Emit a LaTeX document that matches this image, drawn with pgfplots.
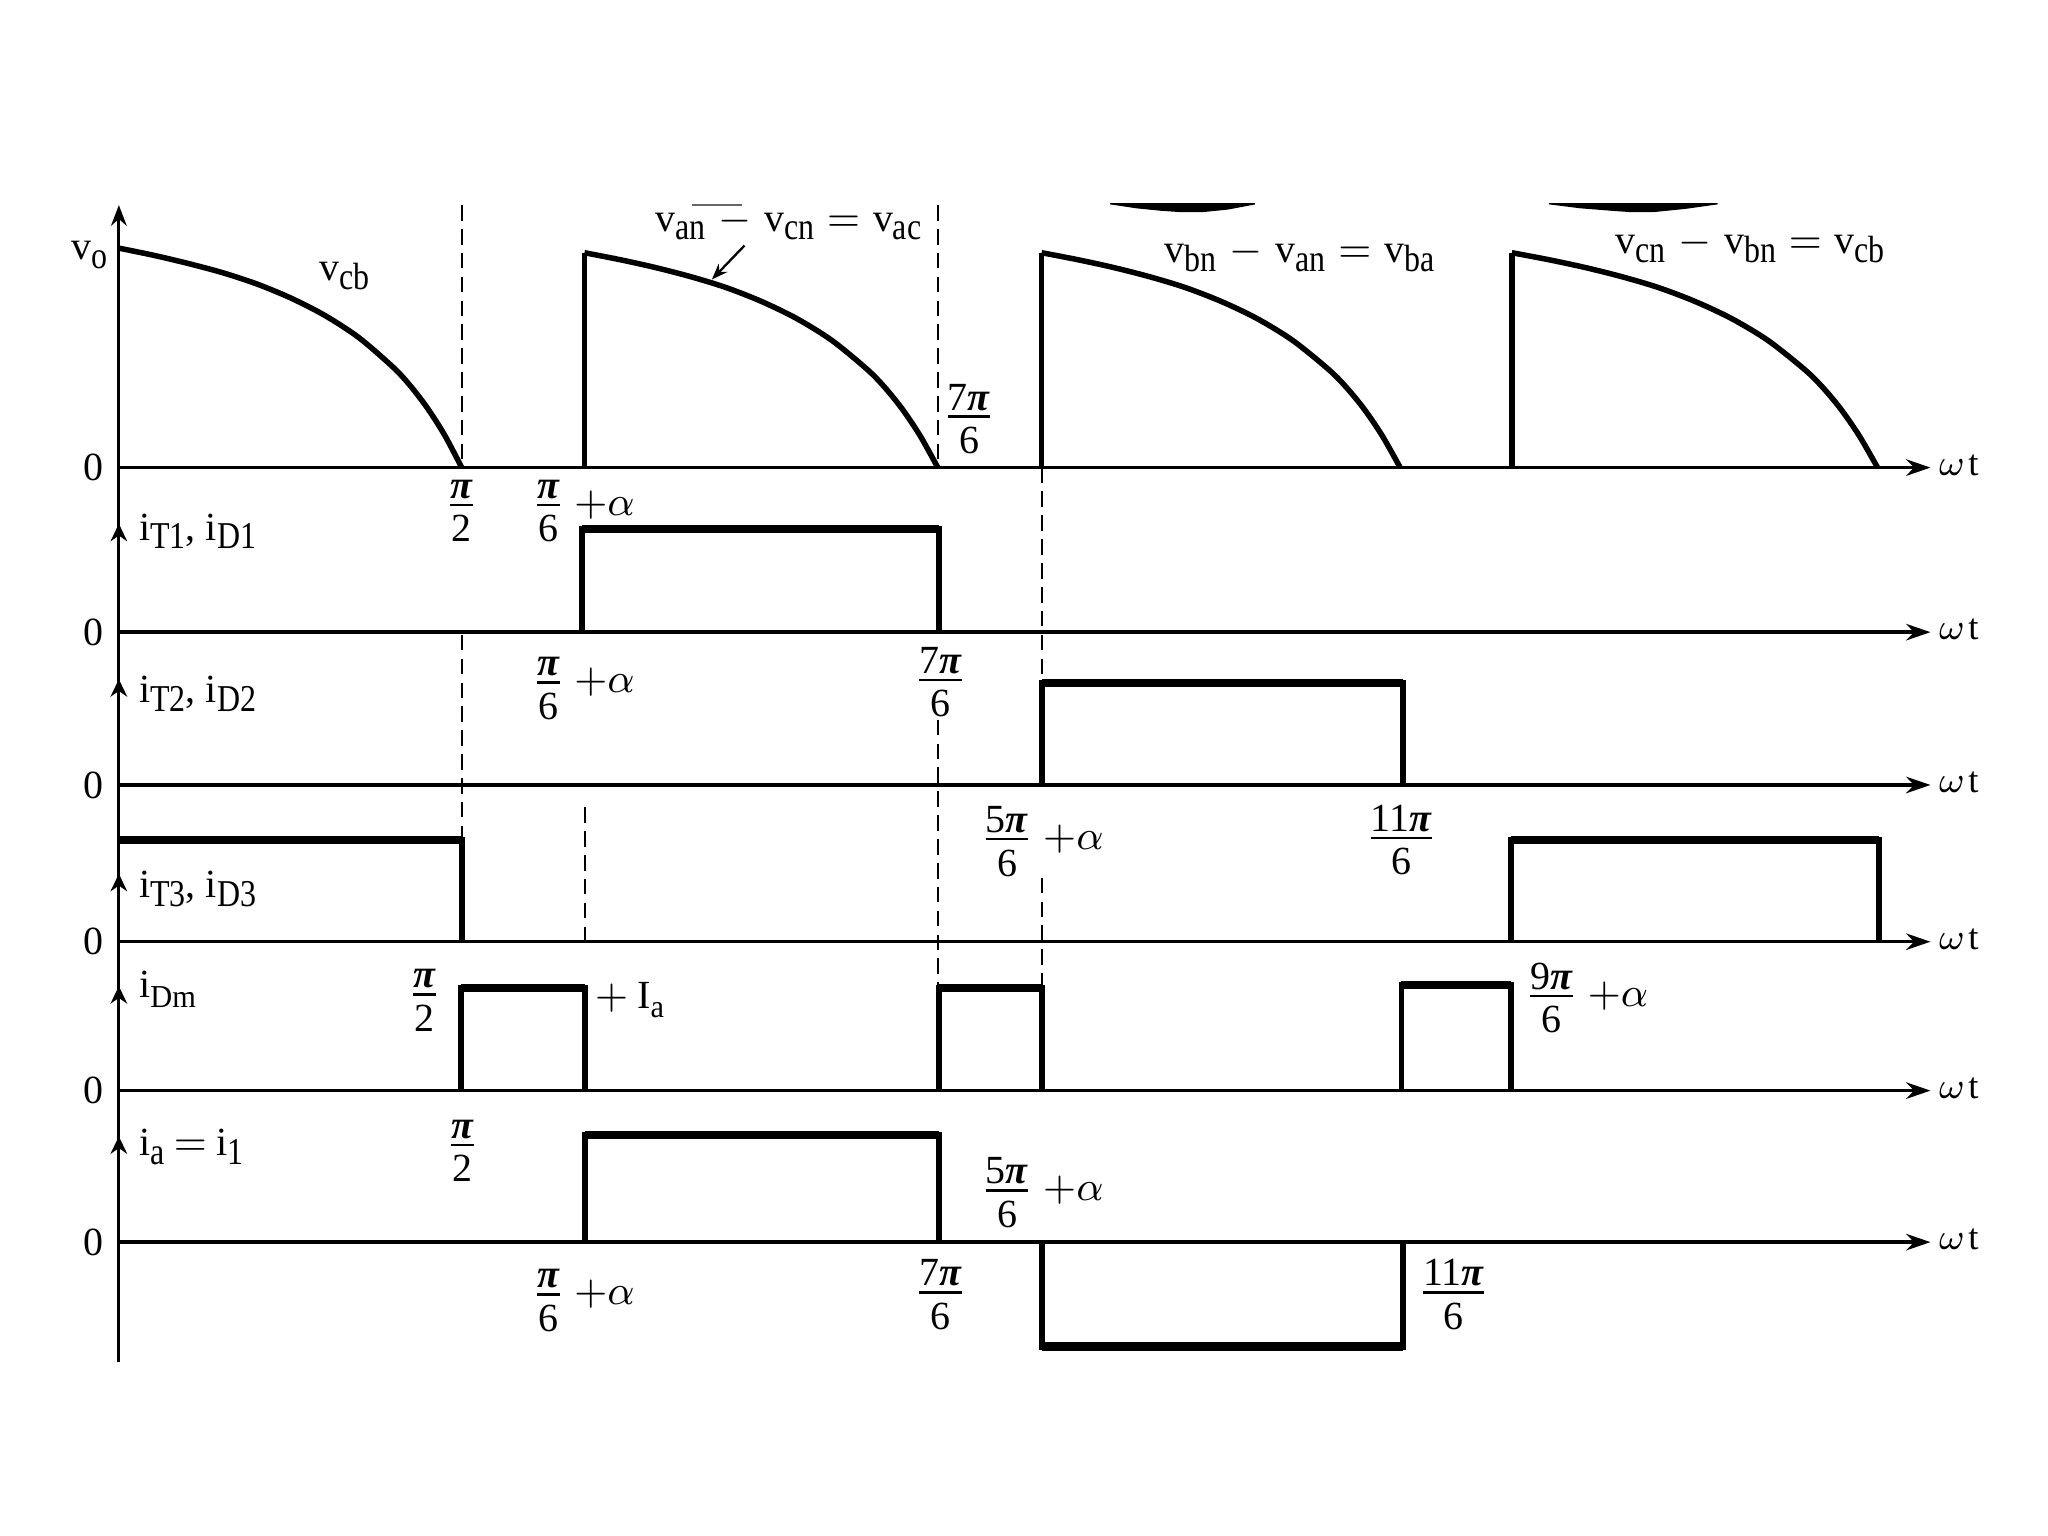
\documentclass[border=0pt]{standalone}
\usepackage{amsmath}
\usepackage{graphicx}
\usepackage{pgfplots}
\pgfplotsset{compat=1.18}
\usetikzlibrary{arrows.meta}
\usepackage{fontspec}
\setmainfont{Liberation Serif}

\newcommand{\sub}[1]{\raisebox{-1.9pt}{\scalebox{0.8}[0.95]{#1}}}
\newcommand{\ssub}[1]{\raisebox{-2.1pt}{\scalebox{0.76}[0.8]{#1}}}
\newcommand{\PI}{\textbf{\textit{π}}}
\newcommand{\fr}[2]{$\genfrac{}{}{0.55pt}{1}{\textstyle\text{#1}}{\textstyle\text{\rule{0pt}{7.2pt}#2}}$}
\newcommand{\pa}{$+\alpha$}
\newcommand{\mi}{\hspace{2.8pt}$-$\hspace{2.8pt}}
\newcommand{\eq}{\hspace{2.8pt}$=$\hspace{2.8pt}}
\newcommand{\wt}{{\fontsize{8}{9}\selectfont$\omega$\hspace{0.8pt}t}}

\tikzset{lbl/.style={inner sep=0pt, font=\fontsize{8.7}{10}\selectfont}}
\pgfplotsset{
  baseax/.style={line width=0.75pt, -{Stealth[length=5.3pt,width=3.6pt]}},
  wave/.style={line width=1.2pt, line join=round, smooth},
  vert/.style={line width=1.2pt},
  pulse/.style={line width=1.3pt, line join=miter},
  ptop/.style={line width=1.8pt},
  dsh/.style={line width=0.45pt, dash pattern=on 3.4pt off 1.8pt},
  smallarr/.style={line width=0.7pt, -{Stealth[length=3.8pt,width=3.6pt]}},
}

\begin{document}
\begin{tikzpicture}
\begin{axis}[
  width=15.68cm, height=11.76cm, scale only axis,
  xmin=0, xmax=1568, ymin=0, ymax=1176, y dir=reverse,
  hide axis, clip=false,
]
\fill[white] (axis cs:0,0) rectangle (axis cs:1568,1176);

% ---------------- axes ----------------
\addplot[line width=0.7pt, -{Stealth[length=4.5pt,width=3.4pt]}] coordinates {(91,1043) (91,157)};
\addplot[baseax] coordinates {(91,358) (1478,358)};
\addplot[baseax] coordinates {(91,484) (1478,484)};
\addplot[baseax] coordinates {(91,601) (1478,601)};
\addplot[baseax] coordinates {(91,721) (1478,721)};
\addplot[baseax] coordinates {(91,835) (1478,835)};
\addplot[baseax] coordinates {(91,951) (1478,951)};

\addplot[smallarr] coordinates {(91,416) (91,401)};
\addplot[smallarr] coordinates {(91,535) (91,520)};
\addplot[smallarr] coordinates {(91,684) (91,669)};
\addplot[smallarr] coordinates {(91,770) (91,755)};
\addplot[smallarr] coordinates {(91,885) (91,870)};

% ---------------- dashed guides ----------------
\addplot[dsh] coordinates {(353.7,157) (353.7,358)};
\addplot[dsh] coordinates {(353.7,486) (353.7,641)};
\addplot[dsh] coordinates {(718.5,157) (718.5,358)};
\addplot[dsh] coordinates {(718.5,551) (718.5,756)};
\addplot[dsh] coordinates {(797.5,358) (797.5,601)};
\addplot[dsh] coordinates {(797.5,672) (797.5,756)};
\addplot[dsh] coordinates {(448,618) (448,721)};

% ---------------- v_o ----------------
\addplot[wave] coordinates {(91,190) (117.25,195.4) (143.5,201.6) (169.75,208.6) (196,217.2) (222.25,228) (248.5,241.4) (274.75,258.5) (301,281.2) (314.1,295.3) (327.25,312.5) (340.4,333.1) (353.5,358)};
\addplot[vert] coordinates {(447.5,358) (447.5,193.5)};
\addplot[wave] coordinates {(447.5,193.5) (474.55,198.8) (501.6,204.8) (528.65,211.8) (555.7,220.1) (582.75,230.7) (609.8,243.8) (636.85,260.6) (663.9,282.8) (677.4,296.6) (690.95,313.4) (704.5,333.7) (718,358)};
\addplot[vert] coordinates {(797.5,358) (797.5,193.5)};
\addplot[wave] coordinates {(797.5,193.5) (824.95,198.8) (852.4,204.8) (879.85,211.8) (907.3,220.1) (934.75,230.7) (962.2,243.8) (989.65,260.6) (1017.1,282.8) (1030.8,296.6) (1044.55,313.4) (1058.3,333.7) (1072,358)};
\addplot[vert] coordinates {(1157.5,358) (1157.5,193.5)};
\addplot[wave] coordinates {(1157.5,193.5) (1185.5,198.8) (1213.5,204.8) (1241.5,211.8) (1269.5,220.1) (1297.5,230.7) (1325.5,243.8) (1353.5,260.6) (1381.5,282.8) (1395.5,296.6) (1409.5,313.4) (1423.5,333.7) (1437.5,358)};

% clipped arcs at the top
\addplot[fill=black, draw=none] coordinates {(850,155.5) (961,155.5) (961,156.5) (940,160.5) (920,162.5) (905,162.5) (890,161.5) (870,159.5) (850,156.5)};
\addplot[fill=black, draw=none] coordinates {(1186,155.5) (1315,155.5) (1315,156.5) (1290,160) (1265,162.5) (1250,162.5) (1235,161.5) (1210,159.5) (1186,156.5)};
\addplot[line width=0.4pt, black!60] coordinates {(530,157) (568,157)};
\addplot[line width=0.5pt, -{Stealth[length=3.5pt,width=2.6pt]}] coordinates {(570,188) (545,214)};

% ---------------- pulses ----------------
% iT1
\addplot[pulse] coordinates {(445.5,484) (445.5,405) (719,405) (719,484)};
\addplot[ptop] coordinates {(445.5,405) (719,405)};
% iT2
\addplot[pulse] coordinates {(797.5,601) (797.5,523) (1074,523) (1074,601)};
\addplot[ptop] coordinates {(797.5,523) (1074,523)};
% iT3
\addplot[pulse] coordinates {(91,643) (354,643) (354,721)};
\addplot[ptop] coordinates {(91,643) (354,643)};
\addplot[pulse] coordinates {(1157,721) (1157,643) (1438.5,643) (1438.5,721)};
\addplot[ptop] coordinates {(1157,643) (1438.5,643)};
% iDm
\addplot[pulse] coordinates {(353,835) (353,756.5) (448,756.5) (448,835)};
\addplot[ptop] coordinates {(353,756.5) (448,756.5)};
\addplot[pulse] coordinates {(719,835) (719,756.5) (797.5,756.5) (797.5,835)};
\addplot[ptop] coordinates {(719,756.5) (797.5,756.5)};
\addplot[pulse] coordinates {(1073,835) (1073,754) (1157,754) (1157,835)};
\addplot[ptop] coordinates {(1073,754) (1157,754)};
% ia
\addplot[pulse] coordinates {(448,951) (448,869) (719,869) (719,951)};
\addplot[ptop] coordinates {(448,869) (719,869)};
\addplot[pulse] coordinates {(797.5,951) (797.5,1031) (1074,1031) (1074,951)};
\addplot[ptop] coordinates {(797.5,1031) (1074,1031)};

% ---------------- labels ----------------
\node[lbl] at (axis cs:71.5,358) {0};
\node[lbl] at (axis cs:71.5,484) {0};
\node[lbl] at (axis cs:71.5,601) {0};
\node[lbl] at (axis cs:71.5,721) {0};
\node[lbl] at (axis cs:71.5,835) {0};
\node[lbl] at (axis cs:71.5,951) {0};
\node[lbl, anchor=base west] at (axis cs:1484,364) {\wt};
\node[lbl, anchor=base west] at (axis cs:1484,490) {\wt};
\node[lbl, anchor=base west] at (axis cs:1484,607) {\wt};
\node[lbl, anchor=base west] at (axis cs:1484,727) {\wt};
\node[lbl, anchor=base west] at (axis cs:1484,841) {\wt};
\node[lbl, anchor=base west] at (axis cs:1484,957) {\wt};

\node[lbl, anchor=base west] at (axis cs:54,199) {v\sub{o}};
\node[lbl, anchor=base west] at (axis cs:244,215) {v\sub{cb}};
\node[lbl, anchor=base west] at (axis cs:501,177) {v\sub{an}\mi v\sub{cn}\eq v\sub{ac}};
\node[lbl, anchor=base west] at (axis cs:891,201) {v\sub{bn}\mi v\sub{an}\eq v\sub{ba}};
\node[lbl, anchor=base west] at (axis cs:1236,194) {v\sub{cn}\mi v\sub{bn}\eq v\sub{cb}};

\node[lbl, anchor=base west] at (axis cs:106,413.5) {i\sub{T1}, i\sub{D1}};
\node[lbl, anchor=base west] at (axis cs:106,538) {i\sub{T2}, i\sub{D2}};
\node[lbl, anchor=base west] at (axis cs:106,687) {i\sub{T3}, i\sub{D3}};
\node[lbl, anchor=base west] at (axis cs:106,764) {i\ssub{Dm}};
\node[lbl, anchor=base west] at (axis cs:106,885) {i\sub{a}\hspace{2pt}$=$\hspace{2pt}i\sub{1}};
\node[lbl, anchor=base west] at (axis cs:455,772) {$+$\hspace{2pt}I\ssub{a}};

% fractions (anchor=base : baseline 7.4 units below the fraction bar)
\node[lbl, anchor=base] at (axis cs:742,327) {\fr{7\PI}{6}};
\node[lbl, anchor=base] at (axis cs:353.5,394.4) {\fr{\PI}{2}};
\node[lbl, anchor=base] at (axis cs:420,394.4) {\fr{\PI}{6}};
\node[lbl, anchor=base west] at (axis cs:439,394.4) {\pa};

\node[lbl, anchor=base] at (axis cs:420,530.4) {\fr{\PI}{6}};
\node[lbl, anchor=base west] at (axis cs:439,530.4) {\pa};
\node[lbl, anchor=base] at (axis cs:720,528.4) {\fr{7\PI}{6}};

\node[lbl, anchor=base] at (axis cs:771,650.4) {\fr{5\PI}{6}};
\node[lbl, anchor=base west] at (axis cs:798,650.4) {\pa};
\node[lbl, anchor=base] at (axis cs:1073,649.4) {\fr{11\PI}{6}};

\node[lbl, anchor=base] at (axis cs:325,769.4) {\fr{\PI}{2}};
\node[lbl, anchor=base] at (axis cs:1188,770.4) {\fr{9\PI}{6}};
\node[lbl, anchor=base west] at (axis cs:1215,770.4) {\pa};

\node[lbl, anchor=base] at (axis cs:354,884.4) {\fr{\PI}{2}};
\node[lbl, anchor=base] at (axis cs:771,919.4) {\fr{5\PI}{6}};
\node[lbl, anchor=base west] at (axis cs:798,919.4) {\pa};

\node[lbl, anchor=base] at (axis cs:420,998.9) {\fr{\PI}{6}};
\node[lbl, anchor=base west] at (axis cs:439,998.9) {\pa};
\node[lbl, anchor=base] at (axis cs:720,997.4) {\fr{7\PI}{6}};
\node[lbl, anchor=base] at (axis cs:1113,997.4) {\fr{11\PI}{6}};
\end{axis}
\end{tikzpicture}
\end{document}
